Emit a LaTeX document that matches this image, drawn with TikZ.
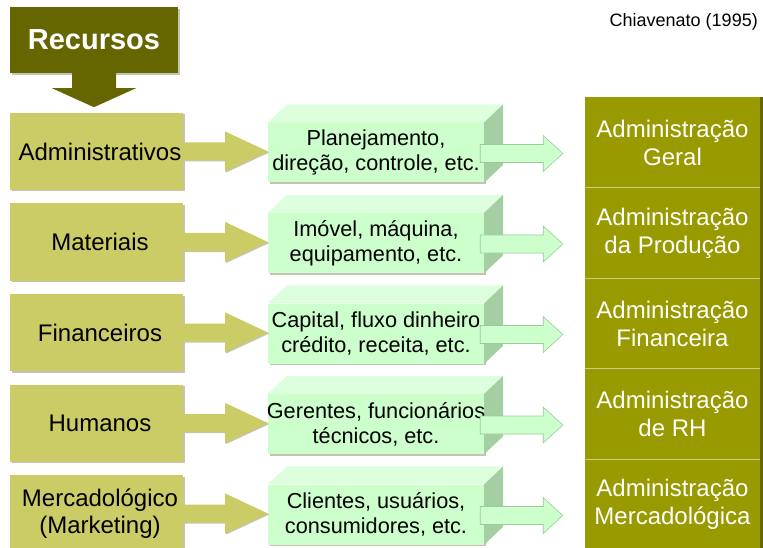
\documentclass[tikz,border=0pt]{standalone}
\usepackage{fontspec}
\setmainfont{Liberation Sans}
\usetikzlibrary{calc}
\definecolor{recc}{HTML}{666600}
\definecolor{leftc}{HTML}{CCCC66}
\definecolor{rightc}{HTML}{999900}
\definecolor{gfront}{HTML}{CCFFCC}
\definecolor{gtop}{HTML}{DDFFDD}
\definecolor{gside}{HTML}{A3CFA3}
\definecolor{gline}{HTML}{99CC99}
\definecolor{sepc}{HTML}{CCCC88}
\definecolor{shad}{HTML}{C4C4B4}
\tikzset{
  leftbox/.style={fill=leftc, minimum width=173pt, minimum height=77pt, inner sep=0pt},
  lefttext/.style={inner sep=0pt, align=center, font=\fontsize{24}{27}\selectfont},
  greenbox/.style={fill=gfront, minimum width=216pt, minimum height=60pt, inner sep=0pt,
    align=center, font=\fontsize{21.7}{25}\selectfont},
  rightbox/.style={fill=rightc, minimum width=175pt, minimum height=90.5pt, inner sep=0pt,
    align=center, text=white, font=\fontsize{24}{28}\selectfont},
  shadowfill/.style={fill=shad}
}
\newcommand\myrow[4]{%
  \pgfmathsetmacro\cy{151.5+90.5*#1}%
  \pgfmathsetmacro\ry{142.5+90.5*#1}%
  % left box
  \fill[shadowfill] (11.5,\cy-37) rectangle (184.5,\cy+40);
  \node[leftbox] (L#1) at (96.5,\cy) {};
  \node[lefttext] (LT#1) at ($(L#1.center)+(3.5,0)$) {#2};
  % green 3D box
  \fill[shadowfill] (269.5,\cy-27.5) rectangle (485.5,\cy+32.5);
  \node[greenbox] (G#1) at (376,\cy+1) {};
  \fill[gtop] (G#1.north west) -- ++(19,-18) -- ($(G#1.north east)+(19,-18)$) -- (G#1.north east) -- cycle;
  \fill[gside] (G#1.north east) -- ++(19,-18) -- ($(G#1.south east)+(19,-18)$) -- (G#1.south east) -- cycle;
  \node[greenbox, fill=none] (GT#1) at (G#1.center) {#3};
  % olive arrow from left box to green box
  \fill[shadowfill] ($(L#1.east)+(0,-8)$) -- ($(L#1.east)+(43,-8)$) -- ($(L#1.east)+(43,-19)$)
     -- ($(G#1.west)+(1.5,0)$) -- ($(L#1.east)+(43,21)$) -- ($(L#1.east)+(43,10)$) -- ($(L#1.east)+(0,10)$) -- cycle;
  \fill[leftc] ($(L#1.east)+(0,-9)$) -- ($(L#1.east)+(42,-9)$) -- ($(L#1.east)+(42,-20)$)
     -- ($(G#1.west)+(0,-1)$) -- ($(L#1.east)+(42,20)$) -- ($(L#1.east)+(42,9)$) -- ($(L#1.east)+(0,9)$) -- cycle;
  % right segment
  \node[rightbox] (R#1) at (672.5,\ry) {#4};
  \coordinate (T#1) at ($(R#1.west)+(-22,0)$);
  % green arrow from green box towards right column
  \filldraw[fill=gfront, draw=gline, line width=0.6pt]
     ($(G#1.east)+(-4,-8)$) -- ($(G#1.east)+(59,-8)$) -- ($(G#1.east)+(59,-17)$)
     -- (T#1 |- {$(G#1.east)+(0,1)$}) -- ($(G#1.east)+(59,19)$) -- ($(G#1.east)+(59,10)$)
     -- ($(G#1.east)+(-4,10)$) -- cycle;
}
\begin{document}
\begin{tikzpicture}[x=1pt,y=-1pt]
\useasboundingbox (0,0) rectangle (763,548);
\clip (0,0) rectangle (763,548);
% source
\node[anchor=east, font=\fontsize{18}{20}\selectfont, inner sep=0pt] (src) at (758,22) {Chiavenato (1995)};
% Recursos
\fill[shadowfill] (12,9) rectangle (180,75);
\node[fill=recc, minimum width=168pt, minimum height=66pt, inner sep=0pt, text=white,
      font=\fontsize{29}{32}\selectfont\bfseries] (rec) at (94,40) {\raisebox{-2pt}{Recursos}};
\coordinate (rs) at (rec.south);
\fill[recc] ($(rs)+(-22,0)$) -- ($(rs)+(22,0)$) -- ($(rs)+(22,15)$) -- ($(rs)+(42,15)$)
   -- ($(rs)+(0,34)$) -- ($(rs)+(-42,15)$) -- ($(rs)+(-22,15)$) -- cycle;
% right column dark edge
\fill[recc] (760,97.25) rectangle (763,560);
\myrow{0}{Administrativos}{Planejamento,\\direção, controle, etc.}{Administração\\Geral}
\myrow{1}{Materiais}{Imóvel, máquina,\\equipamento, etc.}{Administração\\da Produção}
\myrow{2}{Financeiros}{Capital, fluxo dinheiro\\crédito, receita, etc.}{Administração\\Financeira}
\myrow{3}{Humanos}{Gerentes, funcionários\\técnicos, etc.}{Administração\\de RH}
\myrow{4}{Mercadológico\\(Marketing)}{Clientes, usuários,\\consumidores, etc.}{Administração\\Mercadológica}
% separators in right column
\foreach \k in {0,1,2,3}{
  \draw[sepc, line width=1pt] (R\k.south west) -- (R\k.south east);
}
\end{tikzpicture}
\end{document}
